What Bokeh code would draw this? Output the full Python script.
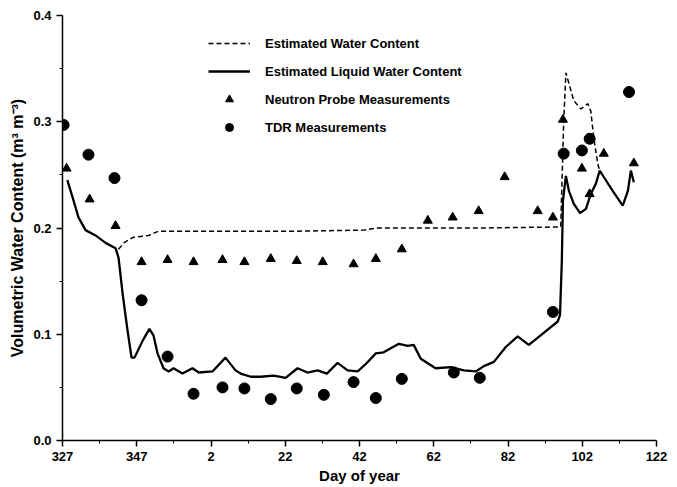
from bokeh.plotting import figure
from bokeh.models import (ColumnDataSource, FixedTicker, Legend, LegendItem, Range1d)
from bokeh.embed import file_html
from bokeh.resources import INLINE

# Day numbers run continuously past 365 (367 = day 2 of the next year)
tick_days = [327, 347, 367, 387, 407, 427, 447, 467, 487]
tick_labels = ["327", "347", "2", "22", "42", "62", "82", "102", "122"]
minor_days = [337, 357, 377, 397, 417, 437, 457, 477]
y_ticks = [0.0, 0.1, 0.2, 0.3, 0.4]
y_labels = ["0.0", "0.1", "0.2", "0.3", "0.4"]

liquid_day = [328.3, 329.7, 331.3, 333.2, 335.9, 338.6, 341.3, 342.1, 343.2, 344.5,
              345.6, 346.4, 348.6, 350.4, 351.5, 352.6, 354.2, 355.6, 356.9, 359.3,
              362.0, 363.7, 367.4, 370.9, 373.6, 375.0, 377.7, 380.4, 383.9, 387.1,
              390.3, 393.0, 395.7, 398.2, 401.1, 403.8, 406.5, 408.7, 411.4, 413.5,
              417.6, 420.0, 421.6, 423.5, 427.5, 431.6, 435.1, 438.3, 440.5, 443.2,
              446.4, 449.6, 452.6, 455.8, 460.4, 461.0, 461.5, 461.8, 462.6, 463.4,
              464.7, 466.4, 468.0, 469.3, 470.7, 471.7, 472.8, 475.2, 477.9, 479.3,
              480.1, 480.9]
liquid_vwc = [0.245, 0.229, 0.210, 0.198, 0.193, 0.186, 0.181, 0.172, 0.138, 0.104,
              0.078, 0.078, 0.094, 0.105, 0.099, 0.082, 0.068, 0.065, 0.068, 0.063,
              0.068, 0.064, 0.065, 0.078, 0.066, 0.063, 0.060, 0.060, 0.061, 0.059,
              0.068, 0.064, 0.066, 0.063, 0.073, 0.066, 0.065, 0.072, 0.082, 0.083,
              0.091, 0.089, 0.090, 0.077, 0.068, 0.069, 0.066, 0.065, 0.070, 0.074,
              0.088, 0.098, 0.090, 0.099, 0.112, 0.118, 0.169, 0.226, 0.249, 0.235,
              0.223, 0.214, 0.218, 0.232, 0.242, 0.254, 0.248, 0.235, 0.221, 0.235,
              0.254, 0.243]

total_day = [342.1, 343.5, 345.9, 348.0, 350.2, 352.9, 370.0, 390.0, 408.0, 412.0,
             440.0, 461.2, 462.0, 462.6, 463.5, 464.7, 466.6, 468.5, 469.3, 470.1,
             471.2, 471.7]
total_vwc = [0.180, 0.186, 0.191, 0.192, 0.193, 0.197, 0.197, 0.197, 0.198, 0.200,
             0.200, 0.201, 0.300, 0.346, 0.335, 0.320, 0.312, 0.317, 0.310, 0.285,
             0.260, 0.254]

neutron_day = [328.1, 334.3, 341.3, 348.3, 355.3, 362.3, 370.1, 376.0, 383.1, 390.1,
               397.1, 405.4, 411.4, 418.4, 425.4, 432.1, 439.1, 446.1, 455.0, 459.1,
               461.8, 466.9, 469.0, 472.8, 480.9]
neutron_vwc = [0.256, 0.227, 0.202, 0.168, 0.170, 0.168, 0.170, 0.168, 0.171, 0.169,
               0.168, 0.166, 0.171, 0.180, 0.207, 0.210, 0.216, 0.248, 0.216, 0.210,
               0.302, 0.256, 0.232, 0.270, 0.261]

tdr_day = [327.3, 334.0, 341.0, 348.3, 355.3, 362.3, 370.1, 376.0, 383.1, 390.1,
           397.4, 405.4, 411.4, 418.4, 432.4, 439.4, 459.1, 462.0, 466.9, 469.0,
           479.6]
tdr_vwc = [0.297, 0.269, 0.247, 0.132, 0.079, 0.044, 0.050, 0.049, 0.039, 0.049,
           0.043, 0.055, 0.040, 0.058, 0.064, 0.059, 0.121, 0.270, 0.273, 0.284,
           0.328]

FONT = "Liberation Sans"

p = figure(width=677, height=487, output_backend="svg", toolbar_location=None,
           x_range=Range1d(327, 487), y_range=Range1d(0, 0.4),
           min_border_left=62, min_border_right=21, min_border_top=15,
           min_border_bottom=47)
p.outline_line_color = None
p.grid.visible = False
p.background_fill_color = "white"

r_total = p.line(total_day, total_vwc, line_color="black", line_width=1.5,
                 line_dash="5 3")
r_liq = p.line(liquid_day, liquid_vwc, line_color="black", line_width=2.3)
r_neu = p.scatter(neutron_day, neutron_vwc, marker="triangle", size=9,
                  fill_color="black", line_color="black")
r_tdr = p.scatter(tdr_day, tdr_vwc, marker="circle", size=11,
                  fill_color="black", line_color="black")

xa = p.xaxis[0]
xa.ticker = FixedTicker(ticks=tick_days, minor_ticks=minor_days)
xa.major_label_overrides = {d: l for d, l in zip(tick_days, tick_labels)}
ya = p.yaxis[0]
ya.ticker = FixedTicker(ticks=y_ticks, minor_ticks=[0.05, 0.15, 0.25, 0.35])
ya.major_label_overrides = {v: l for v, l in zip(y_ticks, y_labels)}

for ax in (xa, ya):
    ax.axis_line_color = "black"
    ax.axis_line_width = 1.5
    ax.major_tick_line_width = 1.5
    ax.major_tick_out = 6
    ax.major_tick_in = 0
    ax.minor_tick_out = 3
    ax.minor_tick_in = 0
    ax.major_label_text_font = FONT
    ax.major_label_text_font_style = "bold"
    ax.major_label_text_font_size = "13px"
    ax.major_label_text_color = "black"
    ax.axis_label_text_font = FONT
    ax.axis_label_text_font_style = "bold"
    ax.axis_label_text_color = "black"

xa.axis_label = "Day of year"
xa.axis_label_text_font_size = "15px"
xa.axis_label_standoff = 3
ya.axis_label = "Volumetric Water Content (m\u00b3 m\u207b\u00b3)"
ya.axis_label_text_font_size = "16px"
ya.axis_label_standoff = 4

legend = Legend(items=[
    LegendItem(label="Estimated Water Content", renderers=[r_total]),
    LegendItem(label="Estimated Liquid Water Content", renderers=[r_liq]),
    LegendItem(label="Neutron Probe Measurements", renderers=[r_neu]),
    LegendItem(label="TDR Measurements", renderers=[r_tdr]),
], location=(146, 303))
legend.border_line_color = None
legend.background_fill_alpha = 0
legend.padding = 0
legend.margin = 0
legend.spacing = 8
legend.glyph_width = 42
legend.glyph_height = 20
legend.label_height = 20
legend.label_standoff = 15
legend.label_text_font = FONT
legend.label_text_font_style = "bold"
legend.label_text_font_size = "13px"
legend.label_text_color = "black"
p.add_layout(legend, "center")

open("out.html", "w").write(file_html(p, INLINE))
